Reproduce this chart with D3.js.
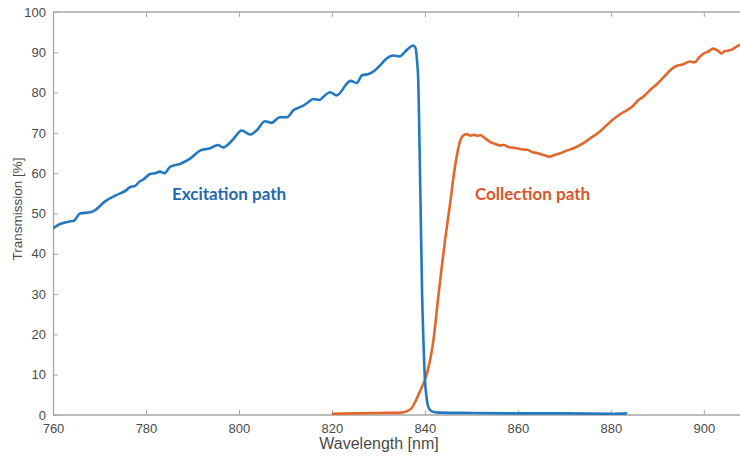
<!DOCTYPE html>
<html>
<head>
<meta charset="utf-8">
<script src="https://cdn.jsdelivr.net/npm/d3@7"></script>
<style>
	body { margin: 0; background: #fff; }
	svg { display: block; }
</style>
</head>
<body>
<div id="chart"></div>
<script>
// Excitation path (blue)
const excWl = [760, 761.5, 763.5, 764.5, 765.8, 768, 769, 771.2, 773.7, 775.8, 776.6, 777.6, 778.7, 779.4, 780.9, 782, 783, 784, 785.2, 787.3, 789.5, 791.6, 793.8, 795.5, 796.6, 798.8, 800.6, 802.4, 803.8, 805.6, 807, 808.8, 810.3, 811.7, 813.9, 814.9, 816, 817.4, 818.1, 819.6, 821, 824, 825.3, 826.5, 827.9, 829, 830.3, 831.7, 833.2, 834.6, 835.7, 836.4, 837.5, 838, 838.3, 838.6, 838.8, 839.1, 839.4, 839.7, 840, 840.4, 840.8, 841.5, 843, 850, 860, 870, 880, 883.5];
const excT = [46.3, 47.4, 48.0, 48.2, 50.0, 50.3, 50.8, 53.0, 54.6, 55.8, 56.6, 56.8, 58.0, 58.4, 59.8, 60.0, 60.4, 60.0, 61.6, 62.3, 63.6, 65.6, 66.2, 67.0, 66.4, 68.5, 70.6, 69.6, 70.6, 72.9, 72.5, 73.9, 73.9, 75.6, 76.8, 77.6, 78.4, 78.2, 78.9, 80.1, 79.3, 82.9, 82.4, 84.3, 84.6, 85.3, 86.7, 88.4, 89.2, 89.0, 90.1, 90.9, 91.7, 91.0, 88.0, 82.0, 70, 50, 30, 18, 9, 4, 1.8, 0.9, 0.6, 0.5, 0.4, 0.4, 0.3, 0.4];

// Collection path (orange)
const colWl = [820, 825, 830, 835, 836, 837, 837.8, 838.6, 839.3, 840, 840.6, 841.1, 841.7, 842.2, 842.8, 843.5, 844.3, 845, 845.6, 846.2, 846.9, 847.5, 848.2, 849, 849.8, 850.5, 851.2, 852, 853, 854, 855, 856.1, 857, 858, 859.7, 861, 862, 863.2, 864.5, 865.5, 866.9, 867.8, 869, 870.5, 872, 874, 875.5, 877.6, 879, 881.2, 882.5, 884.7, 886, 887, 888.4, 890, 892, 893, 894.1, 895.5, 897, 898, 899, 899.8, 901, 902, 903, 903.8, 904.5, 905.6, 906.5, 907.7, 908.5];
const colT = [0.3, 0.4, 0.5, 0.6, 0.9, 1.5, 3, 5, 6.8, 8.7, 11, 13.5, 17.5, 22, 28.5, 35.5, 43, 49, 54, 59.5, 64.5, 67.8, 69.3, 69.7, 69.3, 69.5, 69.3, 69.4, 68.6, 67.8, 67.3, 66.9, 67.0, 66.5, 66.2, 65.9, 65.8, 65.2, 64.9, 64.5, 64.1, 64.5, 64.9, 65.6, 66.2, 67.4, 68.6, 70.3, 71.8, 74.0, 75.0, 76.6, 78.2, 79.0, 80.6, 82.2, 84.6, 85.8, 86.6, 87.0, 87.7, 87.5, 88.7, 89.6, 90.2, 90.9, 90.4, 89.7, 90.3, 90.5, 91.0, 91.8, 92.0];

const xTicks = [760, 780, 800, 820, 840, 860, 880, 900];
const yTicks = [0, 10, 20, 30, 40, 50, 60, 70, 80, 90, 100];

const width = 740, height = 456;
const plotLeft = 53, plotTop = 12, plotBottom = 415;

const svg = d3.select("#chart").append("svg")
	.attr("width", width)
	.attr("height", height);

const x = d3.scaleLinear().domain([760, 908]).range([plotLeft, 741]);
const y = d3.scaleLinear().domain([0, 100]).range([plotBottom, plotTop]);

const axisCol = "#a6a6a6";
const textCol = "#4a4a4a";

svg.append("clipPath").attr("id", "plot")
	.append("rect")
	.attr("x", plotLeft).attr("y", plotTop)
	.attr("width", x(908) - plotLeft).attr("height", plotBottom - plotTop);

// axes (ticks point inward, matlab style)
const gx = svg.append("g").attr("transform", `translate(0,${plotBottom})`)
	.call(d3.axisBottom(x).tickValues(xTicks).tickSizeInner(-5).tickSizeOuter(0).tickPadding(9));
const gxTop = svg.append("g").attr("transform", `translate(0,${plotTop})`)
	.call(d3.axisTop(x).tickValues(xTicks).tickSizeInner(-5).tickSizeOuter(0).tickFormat(""));
const gy = svg.append("g").attr("transform", `translate(${plotLeft},0)`)
	.call(d3.axisLeft(y).tickValues(yTicks).tickSizeInner(-5).tickSizeOuter(0).tickPadding(7));

[gx, gxTop, gy].forEach((g) => {
	g.select(".domain").attr("stroke", axisCol).attr("stroke-width", 1.3);
	g.selectAll(".tick line").attr("stroke", axisCol);
	g.selectAll("text")
		.attr("fill", textCol)
		.style("font-family", "Liberation Sans, Arial, sans-serif")
		.style("font-size", "13px");
});
// the box lines run to the edge
gx.select(".domain").attr("d", `M${plotLeft},0H${x(908)}`);
gxTop.select(".domain").attr("d", `M${plotLeft},0H${x(908)}`);

const line = d3.line()
	.x((d) => x(d[0]))
	.y((d) => y(d[1]))
	.curve(d3.curveMonotoneX);

const plot = svg.append("g").attr("clip-path", "url(#plot)");

plot.append("path")
	.datum(colWl.map((w, i) => [w, colT[i]]))
	.attr("d", line)
	.attr("fill", "none")
	.attr("stroke", "#e2672c")
	.attr("stroke-width", 2.6)
	.attr("stroke-linejoin", "round");

plot.append("path")
	.datum(excWl.map((w, i) => [w, excT[i]]))
	.attr("d", line)
	.attr("fill", "none")
	.attr("stroke", "#2379c1")
	.attr("stroke-width", 2.6)
	.attr("stroke-linejoin", "round");

// labels
svg.append("text")
	.attr("x", 172).attr("y", 200)
	.text("Excitation path")
	.attr("fill", "#2469ae")
	.style("font-family", "Lato, sans-serif")
	.style("font-weight", "bold")
	.style("font-size", "17px");

svg.append("text")
	.attr("x", 475).attr("y", 200)
	.text("Collection path")
	.attr("fill", "#d9562a")
	.style("font-family", "Lato, sans-serif")
	.style("font-weight", "bold")
	.style("font-size", "17px");

svg.append("text")
	.attr("x", 379).attr("y", 449)
	.attr("text-anchor", "middle")
	.text("Wavelength [nm]")
	.attr("fill", textCol)
	.style("font-family", "Liberation Sans, Arial, sans-serif")
	.style("font-size", "16px");

svg.append("text")
	.attr("transform", "translate(22,209) rotate(-90)")
	.attr("text-anchor", "middle")
	.text("Transmission [%]")
	.attr("fill", textCol)
	.style("font-family", "Liberation Sans, Arial, sans-serif")
	.style("font-size", "13.5px");
</script>
</body>
</html>
